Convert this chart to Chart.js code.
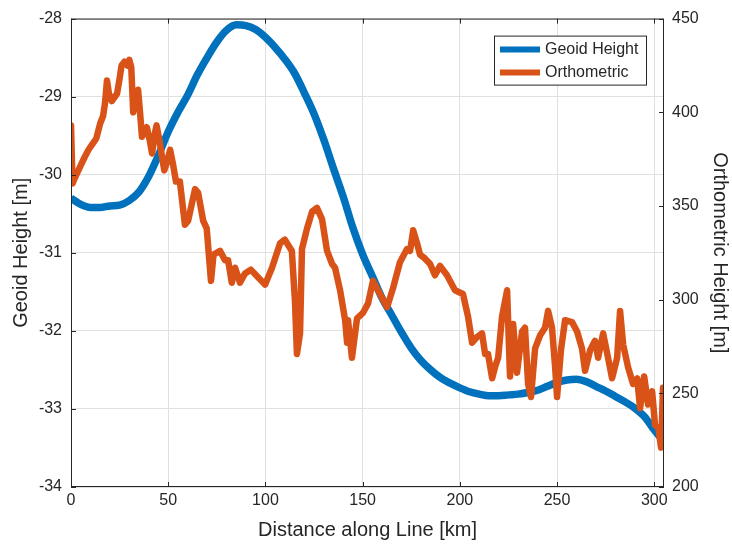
<!DOCTYPE html>
<html>
<head>
<meta charset="utf-8">
<script src="https://cdn.jsdelivr.net/npm/chart.js@4.4.1/dist/chart.umd.min.js"></script>
<style>
  body { margin: 0; background: #fff; }
  #wrap { width: 732px; height: 548px; }
</style>
</head>
<body>
<div id="wrap"><canvas id="chart" width="732" height="548"></canvas></div>
<script>
// distance along line [km] / geoid height [m]
const geoidDist = [0, 5, 10, 15, 20, 25, 30, 35, 40, 45, 50, 55, 60, 65, 70, 75, 80, 85, 90, 95,
    100, 105, 110, 115, 120, 125, 130, 135, 140, 145, 150, 155, 160, 165, 170, 175, 180, 185,
    190, 195, 200, 205, 210, 215, 220, 225, 230, 235, 240, 245, 250, 255, 260, 265, 270, 275, 280, 285,
    290, 295, 300, 305];
const geoidHeight = [-30.3, -30.38, -30.42, -30.42, -30.4, -30.39, -30.33, -30.22, -30.02, -29.75,
    -29.45, -29.2, -28.98, -28.72, -28.5, -28.3, -28.15, -28.08, -28.09, -28.14,
    -28.24, -28.37, -28.52, -28.7, -28.95, -29.22, -29.55, -29.92, -30.28, -30.68,
    -31.02, -31.3, -31.58, -31.8, -32.02, -32.22, -32.38, -32.5,
    -32.6, -32.67, -32.73, -32.78, -32.81, -32.83, -32.83, -32.82, -32.81, -32.79, -32.76, -32.71,
    -32.66, -32.63, -32.62, -32.65, -32.71, -32.77, -32.84, -32.91,
    -32.99, -33.1, -33.27, -33.42];

// distance along line [km] / orthometric height [m]
const orthoDist = [0, 0.8, 2, 4.7, 7, 9, 11, 13, 15, 16.5, 17.5, 18.5, 19.5, 21, 23.7, 25, 26, 27.5, 29, 30,
    31, 32, 33, 34.5, 35.5, 36.5, 38, 39, 40.5, 41.7, 43, 44, 45.5, 47, 48, 49.5, 51, 52.5, 54, 56,
    58.6, 60.2, 63.8, 65.4, 68, 69.8, 72, 73.3, 76.7, 79.2, 80.8, 82.7, 84.4, 86.9, 89.5, 92.5, 96.2, 99.8, 103.4, 107.5,
    110, 113.6, 115.2, 116.2, 117.8, 118.8, 121.4, 124, 126.5, 129.1, 131.7, 134.3, 135.8, 138.4, 141, 142, 142.5, 144.5, 147.1, 150.2,
    152.8, 155.3, 158.9, 162.6, 165.6, 169.2, 172.8, 174.4, 176, 178, 179.5, 182, 184.7, 187.2, 189.8, 193.4, 197.5, 201.6, 204.2, 206.3,
    208.8, 211.4, 213, 214.5, 216.6, 218.1, 219.7, 221.7, 224.3, 225.8, 227.4, 229.4, 232, 233.5, 235.1, 236.6, 238.7, 241.3, 243.8, 245.4,
    247.4, 249, 250, 252, 254.1, 257.7, 260.3, 262.8, 264.4, 267, 269.5, 271.1, 273.7, 276.2, 278.3, 280.9, 282.4, 284, 286.5, 289.1,
    291.2, 292.7, 294.8, 296.8, 298.9, 300.4, 302, 303.5, 304.5];
const orthoHeight = [393, 362, 365, 371, 376, 380, 383, 386, 394, 398, 405, 417, 410, 406, 410, 418, 425, 427, 425, 428,
    424, 400, 405, 412, 400, 387, 390, 392, 385, 378, 388, 393, 385, 375, 369, 374, 380, 372, 363, 363,
    340, 342, 359, 357, 342, 338, 310, 324, 326, 321, 321, 309, 317, 309, 314, 316, 312, 308, 317, 330,
    332, 326, 299, 271, 282, 327, 338, 347, 349, 343, 326, 319, 317, 305, 289, 277, 289, 269, 290, 293,
    298, 310, 303, 296, 306, 320, 327, 326, 337, 330, 324, 322, 319, 313, 318, 313, 305, 303, 291, 277,
    280, 282, 271, 271, 258, 264, 269, 291, 305, 259, 287, 261, 283, 285, 255, 248, 274, 281, 285, 294,
    285, 264, 248, 273, 289, 288, 283, 274, 262, 273, 278, 269, 282, 269, 258, 269, 294, 276, 264, 255,
    258, 242, 259, 244, 251, 233, 232, 221, 253];

const distTicks = [0, 50, 100, 150, 200, 250, 300];
const geoidTicks = [-34, -33, -32, -31, -30, -29, -28];
const orthoTicks = [200, 250, 300, 350, 400, 450];

const BLUE = 'rgb(0, 114, 189)';
const ORANGE = 'rgb(217, 83, 25)';
const INK = '#262626';
const GRID = '#e0e0e0';

Chart.defaults.font.family = '"Liberation Sans", Arial, Helvetica, sans-serif';
Chart.defaults.color = INK;

const toPoints = (xs, ys) => xs.map((x, i) => ({ x: x, y: ys[i] }));
const setTicks = (list) => (scale) => { scale.ticks = list.map(v => ({ value: v })); };

// box round the plot with inward tick marks, like the original
const boxPlugin = {
    id: 'box',
    afterDraw(chart) {
        const { ctx, chartArea: a, scales } = chart;
        ctx.save();
        ctx.strokeStyle = INK;
        ctx.lineWidth = 1;
        ctx.strokeRect(a.left + 0.5, a.top + 0.5, a.right - a.left - 1, a.bottom - a.top - 1);
        const len = 5;
        ctx.beginPath();
        distTicks.forEach(v => {
            const px = Math.round(scales.x.getPixelForValue(v)) + 0.5;
            ctx.moveTo(px, a.bottom); ctx.lineTo(px, a.bottom - len);
            ctx.moveTo(px, a.top); ctx.lineTo(px, a.top + len);
        });
        geoidTicks.forEach(v => {
            const py = Math.round(scales.y.getPixelForValue(v)) + 0.5;
            ctx.moveTo(a.left, py); ctx.lineTo(a.left + len, py);
        });
        orthoTicks.forEach(v => {
            const py = Math.round(scales.y2.getPixelForValue(v)) + 0.5;
            ctx.moveTo(a.right, py); ctx.lineTo(a.right - len, py);
        });
        ctx.stroke();
        ctx.restore();
    }
};

// legend box in the top right corner of the plot
const legendPlugin = {
    id: 'boxLegend',
    afterDraw(chart) {
        const { ctx, chartArea: a } = chart;
        const w = 152, h = 49;
        const x0 = a.right - 18 - w, y0 = a.top + 17;
        ctx.save();
        ctx.fillStyle = '#fff';
        ctx.fillRect(x0, y0, w, h);
        ctx.strokeStyle = INK;
        ctx.lineWidth = 1;
        ctx.strokeRect(x0 + 0.5, y0 + 0.5, w, h);
        ctx.font = '16px "Liberation Sans", Arial, sans-serif';
        ctx.textBaseline = 'middle';
        ctx.fillStyle = INK;
        chart.data.datasets.forEach((ds, i) => {
            const y = y0 + 14 + i * 23;
            ctx.strokeStyle = ds.borderColor;
            ctx.lineWidth = 6;
            ctx.beginPath();
            ctx.moveTo(x0 + 6, y);
            ctx.lineTo(x0 + 46, y);
            ctx.stroke();
            ctx.fillText(ds.label, x0 + 51, y);
        });
        ctx.restore();
    }
};

const ctx = document.getElementById('chart').getContext('2d');
new Chart(ctx, {
    type: 'line',
    data: {
        datasets: [
            {
                label: 'Geoid Height',
                data: toPoints(geoidDist, geoidHeight),
                borderColor: BLUE,
                borderWidth: 7.5,
                pointRadius: 0,
                cubicInterpolationMode: 'monotone',
                yAxisID: 'y',
                order: 2
            },
            {
                label: 'Orthometric',
                data: toPoints(orthoDist, orthoHeight),
                borderColor: ORANGE,
                borderWidth: 6.5,
                pointRadius: 0,
                tension: 0,
                borderJoinStyle: 'round',
                borderCapStyle: 'round',
                yAxisID: 'y2',
                order: 1
            }
        ]
    },
    options: {
        responsive: false,
        animation: false,
        layout: { padding: { top: 17, right: 0, bottom: 0, left: 0 } },
        plugins: {
            legend: { display: false },
            tooltip: { enabled: false }
        },
        scales: {
            x: {
                type: 'linear',
                min: 0,
                max: 305,
                afterBuildTicks: setTicks(distTicks),
                afterFit: (scale) => { scale.height = 61; },
                grid: { color: GRID, drawTicks: false },
                border: { display: false },
                ticks: { font: { size: 16 }, padding: 4, maxRotation: 0 },
                title: {
                    display: true,
                    text: 'Distance along Line [km]',
                    font: { size: 20 },
                    padding: { top: 0, bottom: 6 }
                }
            },
            y: {
                position: 'left',
                min: -34,
                max: -28,
                afterBuildTicks: setTicks(geoidTicks),
                afterFit: (scale) => { scale.width = 71; },
                grid: { color: GRID, drawTicks: false },
                border: { display: false },
                ticks: { font: { size: 16 }, padding: 9 },
                title: {
                    display: true,
                    text: 'Geoid Height [m]',
                    font: { size: 20 },
                    padding: { top: 9, bottom: 0 }
                }
            },
            y2: {
                position: 'right',
                min: 200,
                max: 450,
                afterBuildTicks: setTicks(orthoTicks),
                afterFit: (scale) => { scale.width = 68; },
                grid: { display: false, drawTicks: false },
                border: { display: false },
                ticks: { font: { size: 16 }, padding: 8 },
                title: {
                    display: true,
                    text: 'Orthometric Height [m]',
                    font: { size: 20 },
                    padding: { top: 0, bottom: 0 }
                }
            }
        }
    },
    plugins: [boxPlugin, legendPlugin]
});
</script>
</body>
</html>
